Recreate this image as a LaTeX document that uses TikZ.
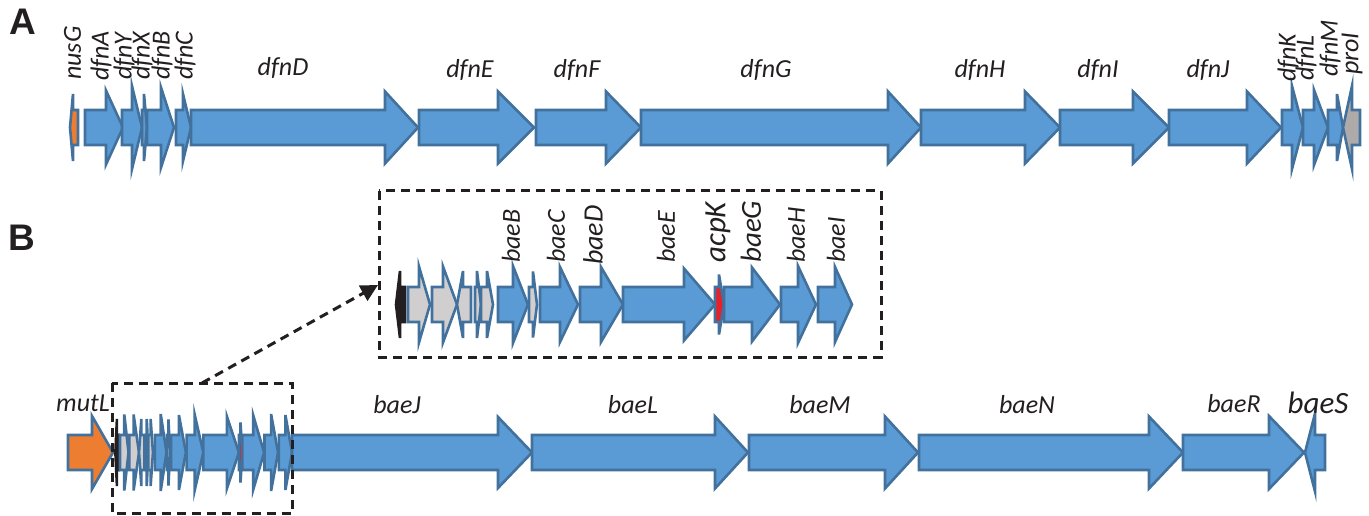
\documentclass[tikz,border=0pt]{standalone}
\usepackage{fontspec}
\setmainfont{Carlito}
\newfontfamily\panelfont{Liberation Sans}
\usetikzlibrary{arrows.meta}
\definecolor{geneblue}{HTML}{5B9BD5}
\definecolor{geneedge}{HTML}{41719C}
\definecolor{geneorange}{HTML}{ED7D31}
\definecolor{genegray}{HTML}{D0CECE}
\definecolor{genegraydark}{HTML}{AEAAAA}
\definecolor{genered}{HTML}{E8202A}
\definecolor{geneblack}{HTML}{231F20}
\def\shafthalf{17.5}
% tail, headbase, tip, cy, head half height, fill
\newcommand\genearrow[6]{%
  \filldraw[genebody, fill=#6] (#1,#4-\shafthalf) -- (#2,#4-\shafthalf) -- (#2,#4-#5) -- (#3,#4)
    -- (#2,#4+#5) -- (#2,#4+\shafthalf) -- (#1,#4+\shafthalf) -- cycle;}
\newcommand\clustergenes[1]{%
  \begin{scope}[genebody/.append style={draw=geneblack}]
    \genearrow{405}{400}{396}{#1}{33.5}{geneblack}
  \end{scope}
  \genearrow{408}{419}{430}{#1}{38}{genegray}
  \genearrow{432}{443}{457}{#1}{38}{genegray}
  \genearrow{471}{463}{457}{#1}{33.5}{genegray}
  \genearrow{475}{477}{481}{#1}{33.5}{genegray}
  \genearrow{481}{487}{493}{#1}{33.5}{genegray}
  \genearrow{498}{513}{528}{#1}{38.5}{geneblue}
  \genearrow{529}{533}{537}{#1}{33}{genegray}
  \genearrow{540}{560}{578}{#1}{37.5}{geneblue}
  \genearrow{580}{601}{623}{#1}{37.5}{geneblue}
  \genearrow{623}{684}{715}{#1}{36}{geneblue}
  \genearrow{715}{719}{724}{#1}{30}{genered}
  \genearrow{724}{752}{780}{#1}{37}{geneblue}
  \genearrow{781}{798}{816}{#1}{38.5}{geneblue}
  \genearrow{818}{835}{852}{#1}{37.5}{geneblue}}
\begin{document}
\begin{tikzpicture}[x=1pt, y=-1pt,
  genebody/.style={draw=geneedge, line width=2.6pt},
  lab/.style={font=\fontsize{26}{26}\selectfont\itshape, inner sep=0pt, text=geneblack},
  rlab/.style={lab, rotate=90, anchor=west},
  panel/.style={font=\panelfont\bfseries\fontsize{37}{37}\selectfont, inner sep=0pt, text=geneblack},
  dbox/.style={draw=geneblack, line width=3pt, dash pattern=on 9pt off 6pt},
  zoomarrow/.style={draw=geneblack, line width=3pt, dash pattern=on 9pt off 6pt,
    -{Triangle[length=17pt, width=17pt]}}]
\useasboundingbox (0,0) rectangle (1369,516);

% ---------- Panel A ----------
\node[panel] (pA) at (23,22) {A};
\genearrow{78}{73}{70}{127.5}{33.5}{geneorange}
\genearrow{85}{106}{123}{127.5}{37}{geneblue}
\genearrow{122}{132}{142}{127.5}{41.5}{geneblue}
\genearrow{142}{144}{147}{127.5}{33.5}{geneblue}
\genearrow{147}{161}{174}{127.5}{40}{geneblue}
\genearrow{176}{183}{191}{127.5}{33.5}{geneblue}
\genearrow{191}{385}{418}{127.5}{36}{geneblue}
\genearrow{419}{498}{534}{127.5}{36}{geneblue}
\genearrow{536}{606}{641}{127.5}{36}{geneblue}
\genearrow{641}{888}{921}{127.5}{36}{geneblue}
\genearrow{921}{1025}{1060}{127.5}{36}{geneblue}
\genearrow{1060}{1133}{1169}{127.5}{36}{geneblue}
\genearrow{1169}{1247}{1281}{127.5}{36}{geneblue}
\genearrow{1282}{1292}{1303}{127.5}{41.5}{geneblue}
\genearrow{1303}{1314}{1328}{127.5}{37.5}{geneblue}
\genearrow{1328}{1337}{1343}{127.5}{33.5}{geneblue}
\genearrow{1360}{1352}{1343}{127.5}{41.5}{genegraydark}

\node[rlab] (lnusG) at (72.5,80) {nusG};
\node[rlab] (ldfnA) at (101,81) {dfnA};
\node[rlab] (ldfnY) at (124,80) {dfnY};
\node[rlab] (ldfnX) at (142,80) {dfnX};
\node[rlab] (ldfnB) at (162,80) {dfnB};
\node[rlab] (ldfnC) at (185,80) {dfnC};
\node[rlab] (ldfnK) at (1288,82) {dfnK};
\node[rlab] (ldfnL) at (1306,81) {dfnL};
\node[rlab] (ldfnM) at (1330,77) {dfnM};
\node[rlab] (lproI) at (1352,75) {proI};
\node[lab] (ldfnD) at (283,68) {dfnD};
\node[lab] (ldfnE) at (470,70) {dfnE};
\node[lab] (ldfnF) at (577,70) {dfnF};
\node[lab] (ldfnG) at (766,70) {dfnG};
\node[lab] (ldfnH) at (980,70) {dfnH};
\node[lab] (ldfnI) at (1098,70) {dfnI};
\node[lab] (ldfnJ) at (1208,70) {dfnJ};

% ---------- Panel B ----------
\node[panel] (pB) at (22,238) {B};

% inset
\draw[dbox] (379,191) rectangle (881,357);
\clustergenes{304.5}
\node[rlab] (lbaeB) at (511,263) {baeB};
\node[rlab] (lbaeC) at (556,263) {baeC};
\node[rlab, font=\fontsize{28}{28}\selectfont\itshape] (lbaeD) at (593,265) {baeD};
\node[rlab] (lbaeE) at (666,263) {baeE};
\node[rlab, font=\fontsize{31}{31}\selectfont\itshape] (lacpK) at (718,263) {acpK};
\node[rlab, font=\fontsize{29}{29}\selectfont\itshape] (lbaeG) at (751,263) {baeG};
\node[rlab] (lbaeH) at (796,263) {baeH};
\node[rlab] (lbaeI) at (836,263) {baeI};

% main row B
\genearrow{68}{92}{113}{452.5}{36.5}{geneorange}
\begin{scope}[xshift=-37.98pt, xscale=0.3873]
  \clustergenes{452.5}
\end{scope}
\genearrow{292}{498}{532}{452.5}{35.5}{geneblue}
\genearrow{532}{715}{748}{452.5}{36}{geneblue}
\genearrow{749}{885}{918}{452.5}{36}{geneblue}
\genearrow{919}{1149}{1183}{452.5}{36}{geneblue}
\genearrow{1183}{1269}{1304}{452.5}{36.5}{geneblue}
\genearrow{1325}{1315}{1305}{452.5}{39}{geneblue}

\node[lab] (lmutL) at (83,403) {mutL};
\node[lab] (lbaeJ) at (397,405) {baeJ};
\node[lab] (lbaeL) at (633,405) {baeL};
\node[lab] (lbaeM) at (820,405) {baeM};
\node[lab] (lbaeN) at (1027,405) {baeN};
\node[lab] (lbaeR) at (1234,404) {baeR};
\node[lab, font=\fontsize{31}{31}\selectfont\itshape] (lbaeS) at (1318,403) {baeS};

% zoom box and arrow
\draw[dbox] (112,383) rectangle (292,513.5);
\coordinate (zfrom) at (202,383);
\coordinate (zto) at (378,285);
\draw[zoomarrow] (zfrom) -- (zto);
\end{tikzpicture}
\end{document}
